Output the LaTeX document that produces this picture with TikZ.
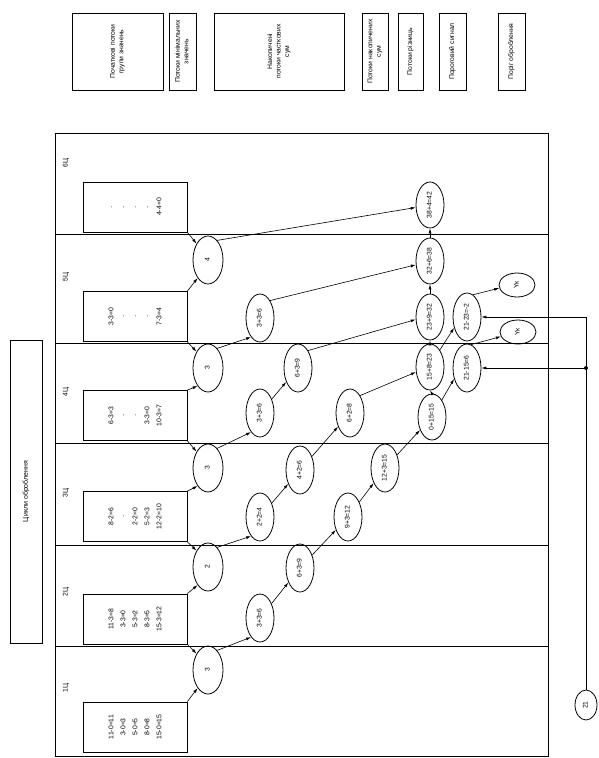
\documentclass[tikz,border=0pt]{standalone}
\usepackage{fontspec}
\setmainfont{Liberation Sans}
\usetikzlibrary{arrows.meta,shapes.geometric,calc}
\newcommand{\vt}[1]{\rotatebox{90}{\begin{tabular}{@{}c@{}}#1\end{tabular}}}

\begin{document}
\begin{tikzpicture}[x=1pt,y=-1pt,
    lgd/.style={draw,thick,minimum height=77pt,inner sep=1pt,
      font=\fontsize{6.8}{8.5}\selectfont},
    databox/.style={draw,thick,minimum width=104pt,minimum height=50pt,inner sep=0pt,
      font=\fontsize{6.8}{12}\selectfont},
    oval/.style={draw,thick,ellipse,minimum width=28pt,minimum height=48pt,inner sep=0pt,
      font=\fontsize{6.8}{8}\selectfont},
    minoval/.style={oval,minimum width=30pt},
    sumoval/.style={oval,minimum height=46pt},
    sig/.style={draw,thick,ellipse,minimum width=36pt,minimum height=24pt,inner sep=0pt,
      font=\fontsize{6.8}{8}\selectfont},
    arr/.style={-{Latex[length=5pt,width=3pt]},semithick}
  ]
    \useasboundingbox (0,0) rectangle (598,758);
    % legend row
    \node[lgd,minimum width=91pt] (lgInit) at (117.5,51.5) {\vt{Початкові потоки\\групи значень}};
    \node[lgd,minimum width=27pt] (lgMin) at (182.5,51.5) {\vt{Потоки мінімальних\\значень}};
    \node[lgd,minimum width=130pt] (lgAcc) at (279,51.5) {\vt{Накопичені\\потоки часткових\\сум}};
    \node[lgd,minimum width=26pt] (lgSum) at (375,51.5) {\vt{Потоки накопичених\\сум}};
    \node[lgd,minimum width=25pt] (lgDiff) at (410.5,51.5) {\vt{Потоки різниць}};
    \node[lgd,minimum width=27pt] (lgSig) at (452.5,51.5) {\vt{Пороговий сигнал}};
    \node[lgd,minimum width=27pt] (lgThr) at (511.5,51.5) {\vt{Поріг оброблення}};
    \node[draw,thick,minimum width=32pt,minimum height=303pt,
      font=\fontsize{7}{9}\selectfont] (cycles) at (26,491.5) {\vt{Цикли оброблення}};

    % frame and cycles
    \draw[thick] (55,133) rectangle (548,756);
    \foreach \yy in {234,343,443,545,646}
      \draw[thick] (55,\yy) -- (548,\yy);
    \foreach \n/\yy in {1/688,2/592,3/493,4/392,5/277,6/163}
      \node[font=\fontsize{6.8}{8}\selectfont] (lbl\n) at (66,\yy) {\vt{\n Ц}};

    % groups of values
    \node[databox] (data1) at (135,727) {\vt{11-0=11\\3-0=3\\5-0=5\\8-0=8\\15-0=15}};
    \node[databox] (data2) at (135,619) {\vt{11-3=8\\3-3=0\\5-3=2\\8-3=5\\15-3=12}};
    \node[databox] (data3) at (135,516.5) {\vt{8-2=6\\·\\2-2=0\\5-2=3\\12-2=10}};
    \node[databox] (data4) at (135,415.5) {\vt{6-3=3\\·\\·\\3-3=0\\10-3=7}};
    \node[databox] (data5) at (135,316.5) {\vt{3-3=0\\·\\·\\·\\7-3=4}};
    \node[databox] (data6) at (135,207) {\vt{·\\·\\·\\·\\4-4=0}};

    % minimum values
    \node[minoval] (min1) at (208,670) {\vt{3}};
    \node[minoval] (min2) at (208,567) {\vt{2}};
    \node[minoval] (min3) at (208,468) {\vt{3}};
    \node[minoval] (min4) at (208,368) {\vt{3}};
    \node[minoval] (min5) at (208,260) {\vt{4}};

    % partial sums
    \node[oval] (acc11) at (260,618) {\vt{3+3=6}};
    \node[oval] (acc12) at (300,568) {\vt{6+3=9}};
    \node[oval] (acc13) at (348,517) {\vt{9+3=12}};
    \node[oval] (acc14) at (385,468) {\vt{12+3=15}};
    \node[oval] (acc21) at (260,517) {\vt{2+2=4}};
    \node[oval] (acc22) at (300,470) {\vt{4+2=6}};
    \node[oval] (acc23) at (350,413) {\vt{6+2=8}};
    \node[oval] (acc31) at (260,413) {\vt{3+3=6}};
    \node[oval] (acc32) at (298,368) {\vt{6+3=9}};
    \node[oval] (acc41) at (260,318) {\vt{3+3=6}};

    % accumulated sums
    \node[sumoval] (sum1) at (432,417) {\vt{0+15=15}};
    \node[sumoval] (sum2) at (430,367) {\vt{15+8=23}};
    \node[sumoval] (sum3) at (430,317) {\vt{23+9=32}};
    \node[sumoval] (sum4) at (430,261) {\vt{32+6=38}};
    \node[sumoval] (sum5) at (430,205) {\vt{38+4=42}};

    % differences, signals, threshold
    \node[oval] (diff1) at (467,368) {\vt{21-15=6}};
    \node[oval] (diff2) at (467,317) {\vt{21-23=-2}};
    \node[sig] (sig2) at (517,285) {\vt{Yк}};
    \node[sig] (sig1) at (518,332) {\vt{Yк}};
    \node[draw,thick,ellipse,minimum width=22pt,minimum height=30pt,inner sep=0pt,
      font=\fontsize{6.8}{8}\selectfont] (thr) at (586,705) {\vt{21}};

    \foreach \k in {1,...,5}
      \draw[arr] (data\k.north east) -- (min\k.240);
    \foreach \k/\j in {1/2,2/3,3/4,4/5,5/6}
      \draw[arr] (data\j.south east) -- (min\k.125);

    \draw[arr] (min1.65) -- (acc11.245);
    \draw[arr] (min2.65) -- (acc21.245);
    \draw[arr] (min3.65) -- (acc31.245);
    \draw[arr] (min4.65) -- (acc41.245);
    \draw[arr] (min5.65) -- (sum5.190);

    \draw[arr] (acc11) -- (acc12);
    \draw[arr] (acc12) -- (acc13);
    \draw[arr] (acc13) -- (acc14);
    \draw[arr] (acc14) -- (sum1);
    \draw[arr] (acc21) -- (acc22);
    \draw[arr] (acc22) -- (acc23);
    \draw[arr] (acc23.60) -- (sum2.200);
    \draw[arr] (acc31) -- (acc32);
    \draw[arr] (acc32.60) -- (sum3.190);
    \draw[arr] (acc41.60) -- (sum4.195);

    \draw[arr] (sum1.north) -- (sum2.south);
    \draw[arr] (sum2.north) -- (sum3.south);
    \draw[arr] (sum3.north) -- (sum4.south);
    \draw[arr] (sum4.north) -- (sum5.south);

    \draw[arr] (sum1.60) -- (diff1.220);
    \draw[arr] (sum2.60) -- (diff2.220);
    \draw[arr] (diff2.75) -- (sig2.190);
    \draw[arr] (diff1.80) -- (sig1.195);

    \draw[arr] (thr.north) |- (diff2.east);
    \coordinate (tap) at (thr.north |- diff1.east);
    \fill (tap) circle (2pt);
    \draw[arr] (tap) -- (diff1.east);
\end{tikzpicture}
\end{document}
